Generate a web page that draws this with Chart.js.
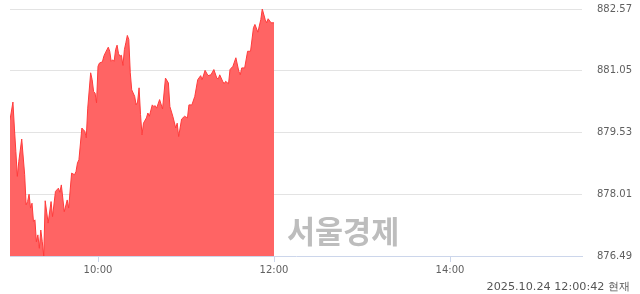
<!DOCTYPE html>
<html lang="ko">
<head>
<meta charset="utf-8">
<script src="https://cdn.jsdelivr.net/npm/chart.js@4"></script>
<style>
  html, body { margin: 0; padding: 0; background: #fff; }
  #wrap { position: relative; width: 640px; height: 294px; }
  #chart { display: block; }
  .mark {
    position: absolute; left: 287px; top: 212px;
    font: bold 30.5px "Noto Sans CJK KR", sans-serif; line-height: 36px;
    color: #bdbdbd;
  }
  .stamp {
    position: absolute; right: 10px; top: 280px;
    font: 11.2px "DejaVu Sans", sans-serif; line-height: 14px; color: #555;
  }
</style>
</head>
<body>
<div id="wrap">
  <canvas id="chart" width="640" height="294"></canvas>
  <div class="mark">서울경제</div>
  <div class="stamp">2025.10.24 12:00:42 현재</div>
</div>
<script>
  // intraday index, 09:00 - 12:00
  const times = [
    "09:00", "09:02", "09:03", "09:04", "09:05", "09:06", "09:08", "09:10",
    "09:11", "09:12", "09:13", "09:14", "09:15", "09:16", "09:17", "09:18",
    "09:19", "09:20", "09:21", "09:22", "09:23", "09:24", "09:26", "09:28",
    "09:29", "09:31", "09:33", "09:34", "09:35", "09:37", "09:39", "09:40",
    "09:42", "09:44", "09:45", "09:46", "09:47", "09:49", "09:50", "09:51",
    "09:52", "09:53", "09:55", "09:56", "09:57", "09:58", "09:59", "10:00",
    "10:01", "10:03", "10:04", "10:05", "10:07", "10:08", "10:09", "10:10",
    "10:11", "10:12", "10:13", "10:14", "10:15", "10:16", "10:17", "10:18",
    "10:19", "10:20", "10:21", "10:22", "10:23", "10:25", "10:26", "10:27",
    "10:28", "10:29", "10:30", "10:31", "10:33", "10:34", "10:35", "10:37",
    "10:38", "10:39", "10:40", "10:42", "10:44", "10:46", "10:48", "10:49",
    "10:51", "10:53", "10:54", "10:55", "10:57", "10:59", "11:01", "11:02",
    "11:04", "11:06", "11:08", "11:10", "11:11", "11:13", "11:15", "11:17",
    "11:19", "11:21", "11:22", "11:23", "11:25", "11:26", "11:27", "11:29",
    "11:30", "11:32", "11:34", "11:36", "11:37", "11:38", "11:40", "11:42",
    "11:44", "11:46", "11:47", "11:49", "11:51", "11:52", "11:54", "11:55",
    "11:56", "11:58", "12:00"
  ];
  const prices = [
    879.84, 880.28, 879.64, 879.06, 878.45, 878.82, 879.37, 878.49,
    877.75, 877.83, 878.01, 877.67, 877.79, 877.34, 877.38, 876.84,
    877.01, 876.68, 877.13, 876.84, 876.49, 877.85, 877.30, 877.83,
    877.46, 878.08, 878.16, 878.06, 878.24, 877.58, 877.87, 877.67,
    878.53, 878.49, 878.57, 878.78, 878.86, 879.64, 879.60, 879.56,
    879.40, 880.13, 881.00, 880.83, 880.54, 880.50, 880.26, 881.16,
    881.24, 881.27, 881.41, 881.49, 881.63, 881.53, 881.28, 881.32,
    881.28, 881.57, 881.68, 881.47, 881.41, 881.43, 881.18, 881.57,
    881.74, 881.92, 881.82, 881.00, 880.58, 880.42, 880.21, 880.28,
    880.63, 879.97, 879.47, 879.76, 879.89, 880.01, 879.93, 880.21,
    880.17, 880.19, 880.13, 880.34, 880.11, 880.87, 880.75, 880.17,
    879.93, 879.64, 879.76, 879.43, 879.86, 879.93, 879.89, 880.21,
    880.21, 880.42, 880.83, 880.93, 880.83, 881.06, 880.93, 880.95,
    881.08, 880.87, 880.85, 880.95, 880.79, 880.73, 880.79, 880.73,
    881.08, 881.16, 881.37, 881.04, 880.95, 881.12, 881.12, 881.53,
    881.53, 882.11, 882.19, 882.00, 882.31, 882.57, 882.31, 882.23,
    882.33, 882.23, 882.23
  ];
  const yTicks = [876.49, 878.01, 879.53, 881.05, 882.57];
  const xTickLabels = ["10:00", "12:00", "14:00"];
  const sessionStart = "09:00";
  const sessionEnd = "15:30";

  function toMin(t) {
    const [h, m] = t.split(":").map(Number);
    const [h0, m0] = sessionStart.split(":").map(Number);
    return (h - h0) * 60 + (m - m0);
  }

  const points = times.map((t, i) => ({ x: toMin(t), y: prices[i] }));
  const axisColor = "#ccd6eb";
  const labelFont = { family: "DejaVu Sans", size: 10 };

  new Chart(document.getElementById("chart").getContext("2d"), {
    type: "line",
    data: {
      datasets: [
        {
          data: points,
          borderColor: "#ff3b3b",
          borderWidth: 1,
          backgroundColor: "#ff6464",
          fill: "start",
          pointRadius: 0,
          tension: 0,
        },
      ],
    },
    options: {
      responsive: false,
      animation: false,
      layout: { padding: { left: 10, right: 8, top: 9, bottom: 14 } },
      plugins: { legend: { display: false }, tooltip: { enabled: false } },
      scales: {
        x: {
          type: "linear",
          min: 0,
          max: toMin(sessionEnd),
          afterBuildTicks: (s) => {
            s.ticks = xTickLabels.map((t) => ({ value: toMin(t) }));
          },
          afterFit: (s) => { s.height = 24; },
          ticks: {
            autoSkip: false,
            maxRotation: 0,
            padding: 2,
            color: "#606060",
            font: labelFont,
            callback: (v) => xTickLabels.find((t) => toMin(t) === v) || "",
          },
          grid: {
            drawOnChartArea: false,
            drawTicks: true,
            tickLength: 6,
            color: axisColor,
          },
          border: { color: axisColor },
        },
        y: {
          position: "right",
          min: yTicks[0],
          max: yTicks[yTicks.length - 1],
          afterBuildTicks: (s) => {
            s.ticks = yTicks.map((v) => ({ value: v }));
          },
          afterFit: (s) => { s.width = 50; },
          ticks: {
            crossAlign: "far",
            color: "#606060",
            font: labelFont,
            callback: (v) => Number(v).toFixed(2),
          },
          grid: {
            drawTicks: false,
            color: (c) => (c.index === 0 ? "rgba(0,0,0,0)" : "#e3e3e3"),
          },
          border: { display: false },
        },
      },
    },
  });
</script>
</body>
</html>
